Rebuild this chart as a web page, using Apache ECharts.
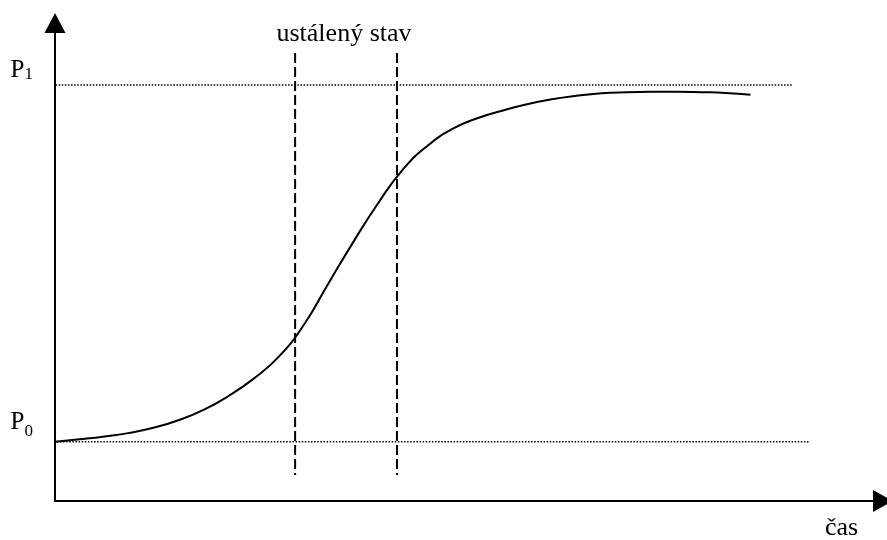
<!DOCTYPE html>
<html>
<head>
<meta charset="utf-8">
<script src="https://cdn.jsdelivr.net/npm/echarts@6/dist/echarts.min.js"></script>
<style>
  html, body { margin: 0; padding: 0; background: #fff; }
  #chart { width: 887px; height: 540px; }
</style>
</head>
<body>
<div id="chart"></div>
<script>
// time axis runs 0..100, response in % of the step (P0 = 0, P1 = 100)
var timeVals = [0, 3, 6, 9, 12, 15, 18, 21, 24, 27, 30, 33, 36, 39, 42, 45, 48, 51, 54, 57, 60, 63, 66, 69, 72, 75, 78, 81, 84];
var responseVals = [0, 0.7, 1.5, 2.5, 4.0, 6.1, 9.0, 12.9, 17.7, 23.8, 32.6, 44.3, 55.9, 66.8, 76.3, 83.0, 87.7, 90.7, 92.8, 94.6, 96.0, 97.0, 97.7, 98.0, 98.1, 98.1, 98.0, 97.8, 97.3];

// P0 / P1 levels and how far their dotted lines reach along time
var levelValues = [0, 100];
var levelLabels = ['{q|P}{s|0}', '{p|P}{s|1}'];
var levelFrom = [-2.4, -4.8];
var levelTo = [91.2, 89.0];

// the "ustálený stav" window
var steadyTimes = [29.0, 41.3];
var steadyTop = 109;
var steadyBottom = -9.3;

var serif = 'Liberation Serif';
var myChart = echarts.init(document.getElementById('chart'));

var series = [];
series.push({
    name: 'odezva',
    type: 'line',
    smooth: 0.5,
    symbol: 'none',
    lineStyle: {color: '#000', width: 2},
    data: timeVals.map(function (t, i) { return [t, responseVals[i]]; }),
    z: 5
});
levelValues.forEach(function (v, i) {
    series.push({
        type: 'line',
        symbol: 'none',
        clip: false,
        lineStyle: {color: '#000', width: 1.6, type: [1.5, 1.6]},
        data: [[levelFrom[i], v], [levelTo[i], v]],
        z: 2
    });
});
steadyTimes.forEach(function (t) {
    series.push({
        type: 'line',
        symbol: 'none',
        clip: false,
        lineStyle: {color: '#000', width: 2, type: [10, 4]},
        data: [[t, steadyTop], [t, steadyBottom]],
        z: 3
    });
});

option = {
    animation: false,
    backgroundColor: '#fff',
    grid: {
        left: 55,
        right: 4,
        top: 23,
        bottom: 39,
        outerBoundsMode: 'none'
    },
    xAxis: {
        type: 'value',
        min: 0,
        max: 100,
        name: 'čas',
        nameLocation: 'end',
        nameGap: -58,
        nameTextStyle: {
            fontFamily: serif,
            fontSize: 26,
            color: '#000',
            align: 'left',
            verticalAlign: 'top',
            padding: [14, 0, 0, 0]
        },
        axisLine: {
            onZero: false,
            symbol: ['none', 'triangle'],
            symbolSize: [22, 20],
            lineStyle: {color: '#000', width: 2}
        },
        axisTick: {show: false},
        axisLabel: {show: false},
        splitLine: {show: false}
    },
    yAxis: {
        type: 'value',
        min: -16.6,
        max: 117.4,
        axisLine: {
            show: true,
            onZero: false,
            symbol: ['none', 'triangle'],
            symbolSize: [21, 20],
            lineStyle: {color: '#000', width: 2}
        },
        axisTick: {show: false},
        splitLine: {show: false},
        axisLabel: {
            customValues: levelValues,
            margin: 22,
            color: '#000',
            fontFamily: serif,
            fontSize: 25,
            verticalAlign: 'bottom',
            padding: [0, 0, 2, 0],
            formatter: function (v) {
                return levelLabels[levelValues.indexOf(v)] || '';
            },
            rich: {
                p: {fontFamily: serif, fontSize: 25, color: '#000', verticalAlign: 'bottom'},
                q: {fontFamily: serif, fontSize: 25, color: '#000', verticalAlign: 'bottom', padding: [0, 0, 5, 0]},
                s: {fontFamily: serif, fontSize: 17, color: '#000', verticalAlign: 'bottom'}
            }
        }
    },
    graphic: [{
        type: 'text',
        x: 344,
        y: 34,
        style: {
            text: 'ustálený stav',
            font: '26px "Liberation Serif"',
            fill: '#000',
            textAlign: 'center',
            textVerticalAlign: 'middle'
        }
    }],
    series: series
};

myChart.setOption(option);
</script>
</body>
</html>
